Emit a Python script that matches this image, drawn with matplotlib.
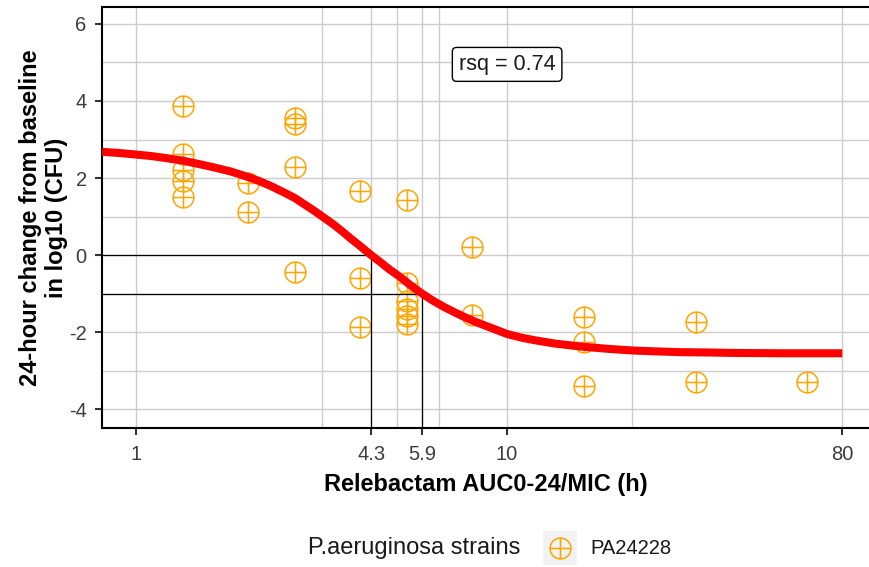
import matplotlib.pyplot as plt
import numpy as np
from matplotlib.path import Path
from matplotlib.patches import Rectangle
from matplotlib.lines import Line2D
from matplotlib.ticker import FixedLocator, NullFormatter

plt.rcParams['font.family'] = ['Liberation Sans', 'DejaVu Sans']
plt.rcParams['axes.unicode_minus'] = False

# observed 24 h change per strain exposure
auc_mic = [1.34, 1.34, 1.34, 1.34, 1.34, 2.01, 2.01, 2.68, 2.68, 2.68, 2.68,
           4.02, 4.02, 4.02, 5.36, 5.36, 5.36, 5.36, 5.36, 5.36,
           8.04, 8.04, 16.1, 16.1, 16.1, 32.2, 32.2, 64.3]
log_change = [3.87, 2.63, 2.22, 1.93, 1.50, 1.86, 1.12, 3.55, 3.40, 2.28, -0.44,
              1.66, -0.60, -1.88, 1.43, -0.72, -1.20, -1.40, -1.58, -1.80,
              0.20, -1.56, -1.61, -2.27, -3.41, -1.73, -3.29, -3.29]

# fitted curve
fit_x = [0.81, 0.9, 1.0, 1.1, 1.2, 1.34, 1.45, 1.6, 1.8, 2.0, 2.15, 2.3, 2.5, 2.68, 2.84,
         3.0, 3.2, 3.4, 3.6, 3.8, 4.0, 4.3, 4.55, 4.8, 5.15, 5.5, 5.9, 6.3, 6.8, 7.3, 7.8,
         8.4, 9.0, 10, 11, 12, 13.5, 16, 19, 22, 25, 29, 35, 40, 55, 80]
fit_y = [2.68, 2.65, 2.61, 2.57, 2.52, 2.45, 2.38, 2.29, 2.17, 2.03, 1.92, 1.80, 1.63, 1.48, 1.32,
         1.17, 0.98, 0.80, 0.61, 0.42, 0.25, 0.0, -0.18, -0.36, -0.57, -0.79, -1.0, -1.18, -1.36, -1.51, -1.64,
         -1.77, -1.88, -2.05, -2.15, -2.22, -2.30, -2.38, -2.44, -2.48, -2.50, -2.52, -2.53, -2.54, -2.55, -2.55]

# targets: static (0) and 1-log kill (-1)
target_x = [4.3, 5.9]
target_y = [0, -1]

x_breaks = [1, 10, 4.3, 5.9, 80]
x_labels = ['1', '10', '4.3', '5.9', '80']
y_breaks = [-4, -2, 0, 2, 4, 6]
y_minor = [-3, -1, 1, 3, 5]
rsq_text = 'rsq = 0.74'
strain = 'PA24228'

# circle with a cross (like pch 10)
circ = Path.unit_circle()
cross = Path([[-1, 0], [1, 0], [0, -1], [0, 1]],
             [Path.MOVETO, Path.LINETO, Path.MOVETO, Path.LINETO])
circ_plus = Path.make_compound_path(circ, cross)

fig = plt.figure(figsize=(8.7, 5.67), dpi=100)
ax = fig.add_axes([102 / 870, 139 / 567, 768 / 870, 421 / 567])
ax.set_xscale('log')
ax.set_xlim(0.81, 95)
ax.set_ylim(-4.49, 6.44)

# grid (minor lines between consecutive breaks, in break order)
xb = np.array(x_breaks)
ax.set_xticks(x_breaks)
ax.set_xticklabels(x_labels)
ax.xaxis.set_minor_locator(FixedLocator(np.sqrt(xb[:-1] * xb[1:])))
ax.xaxis.set_minor_formatter(NullFormatter())
ax.set_yticks(y_breaks)
ax.yaxis.set_minor_locator(FixedLocator(y_minor))
ax.grid(which='both', color='#CCCCCC', lw=1.0)
ax.set_axisbelow(True)

ax.plot(auc_mic, log_change, ls='none', marker=circ_plus, ms=15, mfc='none',
        mec='#FFA500', mew=1.1, zorder=3)

for tx, ty in zip(target_x, target_y):
    ax.plot([0.5, tx, tx], [ty, ty, -10], color='black', lw=0.9, zorder=4)

ax.plot(fit_x, fit_y, color='red', lw=5.8, zorder=5, solid_capstyle='butt')

ax.text(10, 4.95, rsq_text, ha='center', va='center', fontsize=15.5, color='#1A1A1A', zorder=6,
        bbox=dict(boxstyle='round,pad=0.3,rounding_size=0.2', fc='white', ec='black', lw=1))

for s in ['left', 'bottom', 'top']:
    ax.spines[s].set_color('black')
    ax.spines[s].set_linewidth(1.5)
ax.spines['right'].set_visible(False)

ax.tick_params(which='major', length=5, width=1.5, color='#333333', labelsize=14.5,
               labelcolor='#3C3C3C')
ax.tick_params(axis='x', which='major', pad=7.5)
ax.tick_params(axis='y', which='major', pad=6)
ax.tick_params(which='minor', length=0)

ax.set_xlabel('Relebactam AUC0-24/MIC (h)', fontsize=17, fontweight='bold', labelpad=6.5)
ax.set_ylabel('24-hour change from baseline\nin log10 (CFU)', fontsize=17, fontweight='bold',
              labelpad=0.5, linespacing=1.15)

# legend at the bottom
ly = 1 - 548 / 567
fig.text(308 / 870, ly, 'P.aeruginosa strains', fontsize=17, va='center', ha='left', color='#1A1A1A')
fig.add_artist(Rectangle((543 / 870, 1 - 565 / 567), 34 / 870, 34 / 567, transform=fig.transFigure,
                         fc='#F2F2F2', ec='none'))
fig.add_artist(Line2D([560 / 870], [ly], transform=fig.transFigure, ls='none', marker=circ_plus,
                      ms=15, mfc='none', mec='#FFA500', mew=1.1))
fig.text(590 / 870, ly, strain, fontsize=14.5, va='center', ha='left', color='#1A1A1A')

fig.savefig('out.png', dpi=100)
